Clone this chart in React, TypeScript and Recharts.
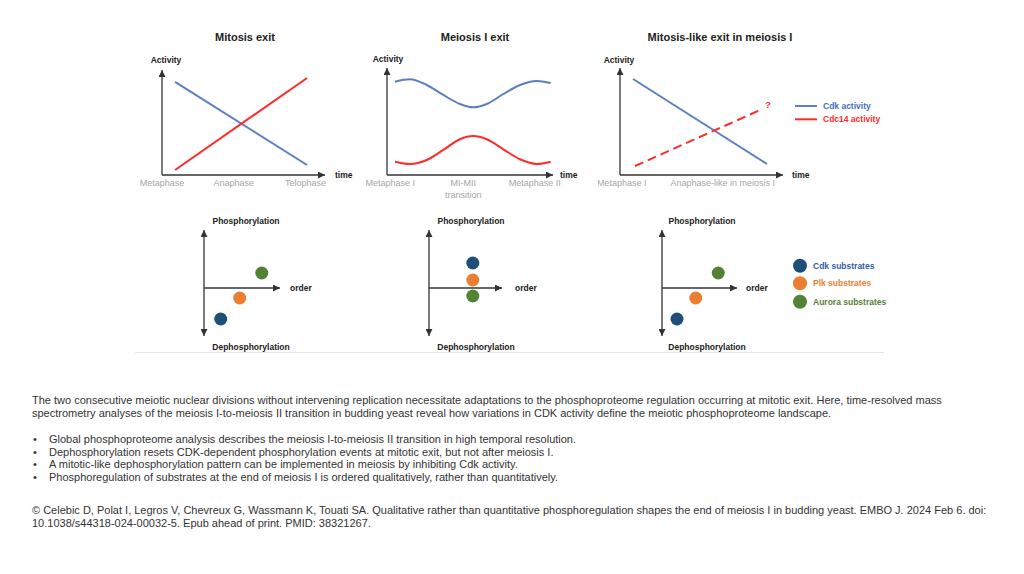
import React from 'react';
import { LineChart, Line, XAxis, YAxis, ScatterChart, Scatter, ReferenceLine } from 'recharts';

// ---------- data ----------
// Mitosis exit
const mitosisTime = [8, 89];
const mitosisCdk = [88.6, 9.5];
const mitosisCdc14 = [4.8, 92.4];
const mitosisTickPos = [0, 44, 88];
const mitosisTickLabels = ['Metaphase', 'Anaphase', 'Telophase'];

// Meiosis I exit
const meiosisTime = [4.8, 13.9, 23.9, 33.9, 43.9, 52.0, 60.1, 70.1, 80.1, 90.2, 98.6];
const meiosisCdk = [87.2, 89.4, 84.1, 74.8, 66.4, 63.3, 66.4, 75.7, 84.1, 87.9, 86.0];
const meiosisCdc14 = [12.4, 10.3, 14.0, 23.4, 33.4, 36.4, 33.4, 24.0, 14.7, 10.3, 12.4];
const meiosisTickPos = [2, 46, 89];
const meiosisTickLabels = ['Metaphase I', 'MI-MII\ntransition', 'Metaphase II'];

// Mitosis-like exit in meiosis I
const likeCdkTime = [8, 90.2];
const likeCdk = [89.7, 10.3];
const likeCdc14Time = [9.2, 85.9];
const likeCdc14 = [8.4, 60.7];
const likeTickPos = [1, 63];
const likeTickLabels = ['Metaphase I', 'Anaphase-like in meiosis I'];

// Substrate order panels (order, phosphorylation)
const substrateNames = ['Cdk substrates', 'Plk substrates', 'Aurora substrates'];
const mitosisOrder = [22, 47, 76];
const mitosisPhospho = [-31, -10, 15];
const meiosisOrder = [60, 60, 60];
const meiosisPhospho = [25, 8, -8];
const likeOrder = [20, 45, 75];
const likePhospho = [-31, -10, 15];

// ---------- styles ----------
const FONT = "'Liberation Sans', Arial, sans-serif";
const BLUE = '#5b7fc2';
const RED = '#ff2a2a';
const AXIS = '#333333';
const TICK = '#a6a6a6';
const SUB_COLORS = ['#1f4e79', '#ed7d31', '#548235'];
const SUB_TEXT = ['#2e5fa8', '#ed7d31', '#548235'];

const toPts = (xs: number[], ys: number[]) => xs.map((x, i) => ({ x, y: ys[i] }));

const makeTick = (positions: number[], labels: string[]) => (props: any) => {
  const { x, y, payload } = props;
  const idx = positions.indexOf(payload.value);
  const label = idx >= 0 ? labels[idx] : '';
  const lines = label.split('\n');
  return (
    <g>
      {lines.map((l, i) => (
        <text key={i} x={x} y={y + 11 + i * 12} textAnchor="middle" fill={TICK} fontSize={9} fontFamily={FONT}>
          {l}
        </text>
      ))}
    </g>
  );
};

type LinePanelProps = {
  left: number; top: number; width: number; height: number;
  margin: { top: number; right: number; bottom: number; left: number };
  series: { data: { x: number; y: number }[]; color: string; dashed?: boolean; question?: boolean; curved?: boolean }[];
  ticks: number[]; tickLabels: string[];
};

const LinePanel = ({ left, top, width, height, margin, series, ticks, tickLabels }: LinePanelProps) => (
  <div style={{ position: 'absolute', left, top, width, height }}>
    <LineChart width={width} height={height} margin={{ ...margin, left: margin.left - 2 }}>
      <XAxis
        type="number"
        dataKey="x"
        domain={[0, 100]}
        ticks={ticks}
        interval={0}
        tickLine={false}
        tickSize={0}
        tickMargin={0}
        height={30}
        axisLine={{ stroke: AXIS, strokeWidth: 1.3, markerEnd: 'url(#arrowHead)' } as any}
        tick={makeTick(ticks, tickLabels)}
        allowDataOverflow
      />
      <YAxis
        type="number"
        dataKey="y"
        domain={[0, 100]}
        width={2}
        tick={false}
        tickLine={false}
        axisLine={{ stroke: AXIS, strokeWidth: 1.3, markerStart: 'url(#arrowHead)' } as any}
        allowDataOverflow
      />
      {series.map((s, i) => (
        <Line
          key={i}
          data={s.data}
          dataKey="y"
          type={s.curved ? 'monotone' : 'linear'}
          stroke={s.color}
          strokeWidth={2}
          strokeDasharray={s.dashed ? '9 5' : undefined}
          dot={false}
          activeDot={false}
          isAnimationActive={false}
          label={
            s.question
              ? (p: any) =>
                  p.index === s.data.length - 1 ? (
                    <text key="q" x={p.x + 8} y={p.y - 2} fill={RED} fontSize={9} fontWeight="bold" fontFamily={FONT} textAnchor="middle">
                      ?
                    </text>
                  ) : null
              : undefined
          }
        />
      ))}
    </LineChart>
  </div>
);

type ScatterPanelProps = { left: number; order: number[]; phospho: number[]; marginRight: number };

const ScatterPanel = ({ left, order, phospho, marginRight }: ScatterPanelProps) => (
  <div style={{ position: 'absolute', left, top: 220, width: 120, height: 130 }}>
    <ScatterChart width={120} height={130} margin={{ top: 10, right: marginRight, bottom: 14, left: 24 }}>
      <XAxis type="number" dataKey="x" domain={[0, 100]} hide allowDataOverflow />
      <YAxis type="number" dataKey="y" domain={[-48, 58]} hide allowDataOverflow />
      <ReferenceLine
        y={0}
        stroke={AXIS}
        strokeWidth={1.3}
        ifOverflow="visible"
        {...({ markerEnd: 'url(#arrowHead)' } as any)}
      />
      <ReferenceLine
        x={0}
        stroke={AXIS}
        strokeWidth={1.3}
        ifOverflow="visible"
        {...({ markerStart: 'url(#arrowHead)', markerEnd: 'url(#arrowHead)' } as any)}
      />
      {order.map((o, i) => (
        <Scatter
          key={i}
          name={substrateNames[i]}
          data={[{ x: o, y: phospho[i] }]}
          fill={SUB_COLORS[i]}
          isAnimationActive={false}
          shape={(p: any) => <circle cx={p.cx} cy={p.cy} r={6.5} fill={SUB_COLORS[i]} />}
        />
      ))}
    </ScatterChart>
  </div>
);

const T = (props: any) => (
  <text fontFamily={FONT} dominantBaseline="central" {...props} />
);

const paragraph = [
  'The two consecutive meiotic nuclear divisions without intervening replication necessitate adaptations to the phosphoproteome regulation occurring at mitotic exit. Here, time-resolved mass',
  'spectrometry analyses of the meiosis I-to-meiosis II transition in budding yeast reveal how variations in CDK activity define the meiotic phosphoproteome landscape.',
];
const bullets = [
  'Global phosphoproteome analysis describes the meiosis I-to-meiosis II transition in high temporal resolution.',
  'Dephosphorylation resets CDK-dependent phosphorylation events at mitotic exit, but not after meiosis I.',
  'A mitotic-like dephosphorylation pattern can be implemented in meiosis by inhibiting Cdk activity.',
  'Phosphoregulation of substrates at the end of meiosis I is ordered qualitatively, rather than quantitatively.',
];
const citation = [
  '\u00A9 Celebic D, Polat I, Legros V, Chevreux G, Wassmann K, Touati SA. Qualitative rather than quantitative phosphoregulation shapes the end of meiosis I in budding yeast. EMBO J. 2024 Feb 6. doi:',
  '10.1038/s44318-024-00032-5. Epub ahead of print. PMID: 38321267.',
];

export default function App() {
  return (
    <div style={{ position: 'absolute', left: 0, top: 0, width: 1024, height: 574, background: '#fff', overflow: 'hidden' }}>
      <LinePanel
        left={140} top={58} width={200} height={162}
        margin={{ top: 12, right: 15, bottom: 15, left: 22 }}
        series={[
          { data: toPts(mitosisTime, mitosisCdk), color: BLUE },
          { data: toPts(mitosisTime, mitosisCdc14), color: RED },
        ]}
        ticks={mitosisTickPos} tickLabels={mitosisTickLabels}
      />
      <LinePanel
        left={360} top={56} width={210} height={164}
        margin={{ top: 12, right: 17, bottom: 15, left: 27 }}
        series={[
          { data: toPts(meiosisTime, meiosisCdk), color: BLUE, curved: true },
          { data: toPts(meiosisTime, meiosisCdc14), color: RED, curved: true },
        ]}
        ticks={meiosisTickPos} tickLabels={meiosisTickLabels}
      />
      <LinePanel
        left={598} top={56} width={200} height={164}
        margin={{ top: 12, right: 15, bottom: 15, left: 22 }}
        series={[
          { data: toPts(likeCdkTime, likeCdk), color: BLUE },
          { data: toPts(likeCdc14Time, likeCdc14), color: RED, dashed: true, question: true },
        ]}
        ticks={likeTickPos} tickLabels={likeTickLabels}
      />

      <ScatterPanel left={180} order={mitosisOrder} phospho={mitosisPhospho} marginRight={20} />
      <ScatterPanel left={405} order={meiosisOrder} phospho={meiosisPhospho} marginRight={23} />
      <ScatterPanel left={638} order={likeOrder} phospho={likePhospho} marginRight={21} />

      <svg width={1024} height={574} style={{ position: 'absolute', left: 0, top: 0, pointerEvents: 'none' }}>
        <defs>
          <marker id="arrowHead" viewBox="0 0 10 10" refX="10" refY="5" markerUnits="userSpaceOnUse" markerWidth="7" markerHeight="7" orient="auto-start-reverse">
            <path d="M0,0 L10,5 L0,10 z" fill={AXIS} />
          </marker>
        </defs>

        {/* titles */}
        <T x={245} y={37} textAnchor="middle" fontSize={11} fontWeight="bold" fill="#222">Mitosis exit</T>
        <T x={475} y={37} textAnchor="middle" fontSize={11} fontWeight="bold" fill="#222">Meiosis I exit</T>
        <T x={720} y={37} textAnchor="middle" fontSize={11} fontWeight="bold" fill="#222">Mitosis-like exit in meiosis I</T>

        {/* axis labels */}
        <T x={166} y={60} textAnchor="middle" fontSize={8.5} fontWeight="bold" fill="#222">Activity</T>
        <T x={388} y={58.5} textAnchor="middle" fontSize={8.5} fontWeight="bold" fill="#222">Activity</T>
        <T x={619} y={59.5} textAnchor="middle" fontSize={8.5} fontWeight="bold" fill="#222">Activity</T>
        <T x={335} y={175} fontSize={8.5} fontWeight="bold" fill="#222">time</T>
        <T x={560} y={175} fontSize={8.5} fontWeight="bold" fill="#222">time</T>
        <T x={792} y={175} fontSize={8.5} fontWeight="bold" fill="#222">time</T>

        {/* activity legend */}
        <line x1={795} x2={817} y1={106} y2={106} stroke={BLUE} strokeWidth={2} />
        <line x1={795} x2={817} y1={119.3} y2={119.3} stroke={RED} strokeWidth={2} />
        <T x={823} y={106} fontSize={8.5} fontWeight="bold" fill="#3f6fbf">Cdk activity</T>
        <T x={823} y={119.3} fontSize={8.5} fontWeight="bold" fill={RED}>Cdc14 activity</T>

        {/* substrate panel labels */}
        {[246, 471, 702].map((x, i) => (
          <T key={'p' + i} x={x} y={221} textAnchor="middle" fontSize={8.5} fontWeight="bold" fill="#222">Phosphorylation</T>
        ))}
        {[251, 476, 707].map((x, i) => (
          <T key={'d' + i} x={x} y={346.5} textAnchor="middle" fontSize={8.5} fontWeight="bold" fill="#222">Dephosphorylation</T>
        ))}
        {[290, 515, 746].map((x, i) => (
          <T key={'o' + i} x={x} y={288} fontSize={8.5} fontWeight="bold" fill="#222">order</T>
        ))}

        {/* substrate legend */}
        {substrateNames.map((n, i) => (
          <g key={n}>
            <circle cx={800} cy={[265.7, 283.3, 301.7][i]} r={7} fill={SUB_COLORS[i]} />
            <T x={813} y={[265.7, 283.3, 301.7][i]} fontSize={8.5} fontWeight="bold" fill={SUB_TEXT[i]}>{n}</T>
          </g>
        ))}

        {/* separator */}
        <line x1={135} x2={884} y1={352.5} y2={352.5} stroke="#e6e6e6" strokeWidth={1} />

        {/* body text */}
        {paragraph.map((l, i) => (
          <T key={'para' + i} x={32} y={400 + i * 12.6} fontSize={11} fill="#333">{l}</T>
        ))}
        {bullets.map((l, i) => (
          <g key={'b' + i}>
            <T x={35} y={439.3 + i * 12.5} fontSize={11} fill="#333" textAnchor="middle">{'\u2022'}</T>
            <T x={49} y={439.3 + i * 12.5} fontSize={11} fill="#333">{l}</T>
          </g>
        ))}
        {citation.map((l, i) => (
          <T key={'c' + i} x={32} y={510 + i * 12.7} fontSize={11} fill="#333">{l}</T>
        ))}
      </svg>
    </div>
  );
}
